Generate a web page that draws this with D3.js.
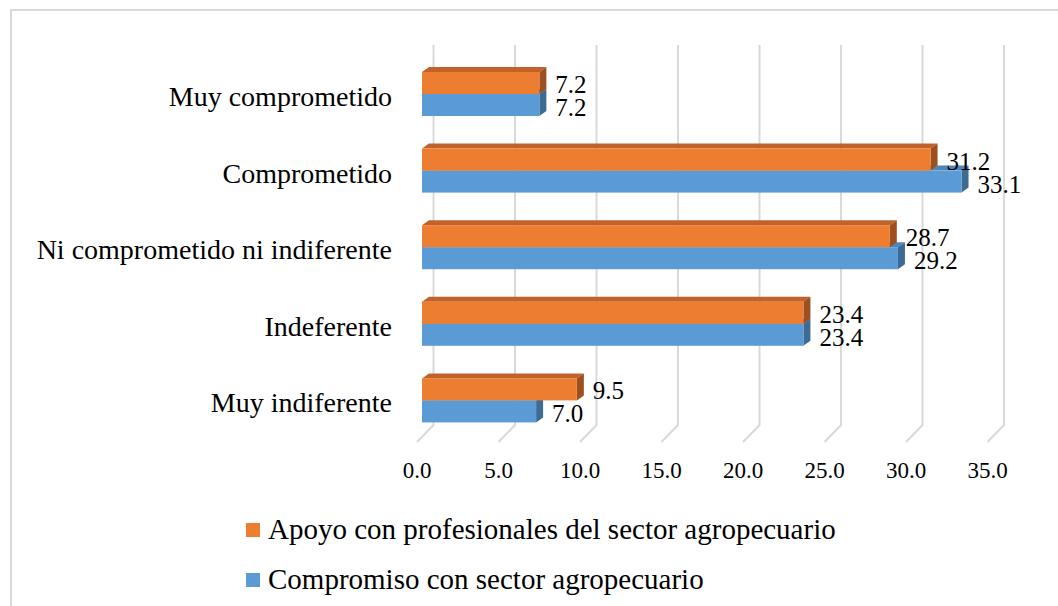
<!DOCTYPE html>
<html lang="es">
<head>
  <meta charset="UTF-8">
  <title>Compromiso con el sector agropecuario</title>
  <script src="https://d3js.org/d3.v7.min.js"></script>
  <style>
    body { margin: 0; background: #fff; }
  </style>
</head>
<body>
  <script>
    const categories = ["Muy comprometido", "Comprometido", "Ni comprometido ni indiferente", "Indeferente", "Muy indiferente"];
    const apoyo = [7.2, 31.2, 28.7, 23.4, 9.5];
    const compromiso = [7.2, 33.1, 29.2, 23.4, 7.0];
    const ticks = [0, 5, 10, 15, 20, 25, 30, 35];
    const seriesNames = ["Apoyo con profesionales del sector agropecuario", "Compromiso con sector agropecuario"];

    const width = 1058, height = 606;
    const barH = 22;
    const depthX = 7, depthY = 5;      // bar 3d depth
    const backDx = 11.5, frontDx = -5; // grid planes relative to bars
    const floorY = 425, floorDrop = 17;
    const serif = '"Liberation Serif"';

    const svg = d3.select("body").append("svg")
      .attr("width", width)
      .attr("height", height);

    // chart frame
    svg.append("rect")
      .attr("x", 11).attr("y", 10)
      .attr("width", 1200).attr("height", 800)
      .attr("fill", "none")
      .attr("stroke", "#d9d9d9")
      .attr("stroke-width", 2);

    const x = d3.scaleLinear().domain([0, 35]).range([422, 422 + 35 * 16.3]);
    const y = d3.scaleBand().domain(categories).range([55.7, 438.7]);

    // gridlines (back wall + floor)
    svg.append("g").selectAll("path")
      .data(ticks)
      .join("path")
      .attr("d", d => `M${x(d) + backDx},45 L${x(d) + backDx},${floorY} L${x(d) + frontDx},${floorY + floorDrop}`)
      .attr("fill", "none")
      .attr("stroke", "#d9d9d9")
      .attr("stroke-width", 2);

    svg.append("g").selectAll("text")
      .data(ticks)
      .join("text")
      .attr("x", d => x(d) + frontDx)
      .attr("y", 478)
      .attr("text-anchor", "middle")
      .style("font-family", serif)
      .style("font-size", "23px")
      .text(d => d.toFixed(1));

    // category labels
    svg.append("g").selectAll("text")
      .data(categories)
      .join("text")
      .attr("x", 392)
      .attr("y", d => y(d) + y.bandwidth() / 2 + 12)
      .attr("text-anchor", "end")
      .style("font-family", serif)
      .style("font-size", "28px")
      .text(d => d);

    // one 3d bar: front, top, side
    const bar3d = (g, x0, x1, top, front, topCol, sideCol) => {
      g.append("path")
        .attr("d", `M${x0},${top} L${x0 + depthX},${top - depthY} L${x1 + depthX},${top - depthY} L${x1},${top} Z`)
        .attr("fill", topCol);
      g.append("path")
        .attr("d", `M${x1},${top} L${x1 + depthX},${top - depthY} L${x1 + depthX},${top + barH - depthY} L${x1},${top + barH} Z`)
        .attr("fill", sideCol);
      g.append("rect")
        .attr("x", x0).attr("y", top)
        .attr("width", x1 - x0).attr("height", barH)
        .attr("fill", front);
    };

    const bars = svg.append("g");
    categories.forEach((c, i) => {
      const mid = y(c) + y.bandwidth() / 2;
      // blue first, orange sits above and hides its top face
      bar3d(bars, x(0), x(compromiso[i]), mid, "#5b9bd5", "#4f86b8", "#3e6b94");
      bar3d(bars, x(0), x(apoyo[i]), mid - barH, "#ed7d31", "#c0622a", "#9e4f1f");
    });

    // data labels
    const labels = svg.append("g");
    labels.selectAll("text.a")
      .data(apoyo)
      .join("text")
      .attr("class", "a")
      .attr("x", d => x(d) + 16)
      .attr("y", (d, i) => y(categories[i]) + y.bandwidth() / 2 - 1)
      .style("font-family", serif)
      .style("font-size", "25px")
      .text(d => d.toFixed(1));
    labels.selectAll("text.c")
      .data(compromiso)
      .join("text")
      .attr("class", "c")
      .attr("x", d => x(d) + 16)
      .attr("y", (d, i) => y(categories[i]) + y.bandwidth() / 2 + barH)
      .style("font-family", serif)
      .style("font-size", "25px")
      .text(d => d.toFixed(1));

    // legend
    const legendColors = ["#ed7d31", "#5b9bd5"];
    const legend = svg.append("g").selectAll("g")
      .data(seriesNames)
      .join("g")
      .attr("transform", (d, i) => `translate(246, ${523 + i * 50})`);
    legend.append("rect")
      .attr("width", 14).attr("height", 14)
      .attr("fill", (d, i) => legendColors[i]);
    legend.append("text")
      .attr("x", 22)
      .attr("y", 16)
      .style("font-family", serif)
      .style("font-size", "29px")
      .text(d => d);
  </script>
</body>
</html>
